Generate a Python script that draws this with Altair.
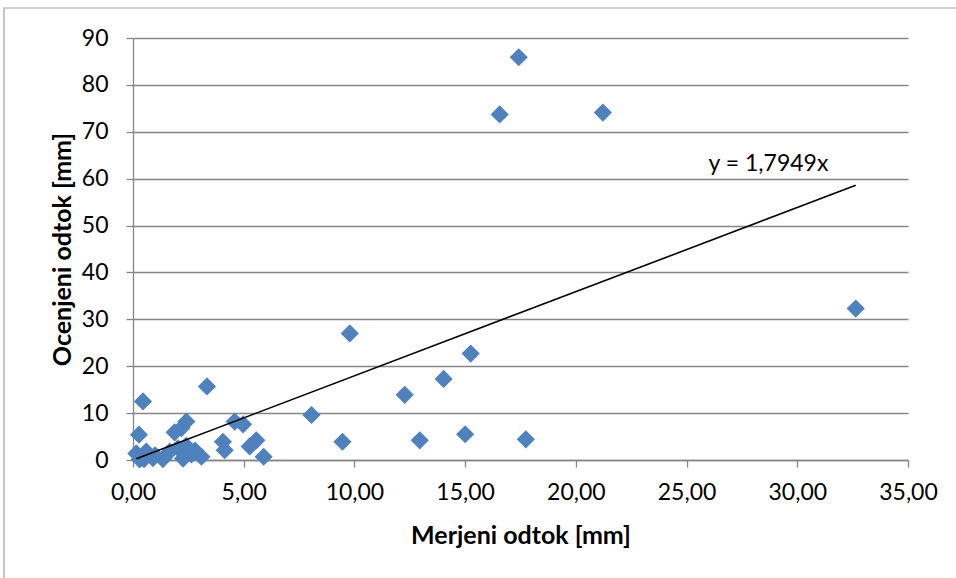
import altair as alt
import pandas as pd

# Measured runoff [mm] (x) and estimated runoff [mm] (y)
merjeni = [17.42, 16.56, 21.22, 32.64, 9.79, 15.25, 14.03, 12.27, 8.06, 9.46,
           12.95, 15.00, 17.74, 3.34, 0.45, 0.27, 2.19, 2.41, 1.88, 4.59,
           4.97, 4.06, 4.14, 5.27, 5.57, 5.90, 3.09, 0.15, 0.30, 0.60,
           0.90, 0.50, 1.35, 1.66, 2.03, 2.26, 2.64, 2.40, 2.80, 1.00]
ocenjeni = [85.9, 73.7, 74.1, 32.3, 27.0, 22.7, 17.3, 13.9, 9.6, 3.9,
            4.2, 5.5, 4.4, 15.7, 12.5, 5.4, 6.8, 8.2, 5.9, 8.2,
            7.6, 3.9, 2.1, 2.9, 4.2, 0.7, 0.7, 1.4, 0.1, 1.8,
            0.4, 0.2, 0.2, 1.8, 2.5, 0.3, 1.2, 3.0, 2.0, 1.0]

slope = 1.7949
trend_label = ["y = 1,7949x"]
label_pos_x = [28.7]
label_pos_y = [61.6]

x_ticks = [0, 5, 10, 15, 20, 25, 30, 35]
y_ticks = [0, 10, 20, 30, 40, 50, 60, 70, 80, 90]

pts = pd.DataFrame({"x": merjeni, "y": ocenjeni})
xmin, xmax = min(merjeni), max(merjeni)
trend = pd.DataFrame({"x": [xmin, xmax], "y": [slope * xmin, slope * xmax]})
lab = pd.DataFrame({"x": label_pos_x, "y": label_pos_y, "t": trend_label})

FONT = "Lato"
GRAY = "#868686"

xscale = alt.Scale(domain=[0, 35], nice=False, zero=False)
yscale = alt.Scale(domain=[0, 90], nice=False, zero=False)

xaxis = alt.Axis(
    values=x_ticks, title="Merjeni odtok [mm]",
    labelExpr="replace(format(datum.value, '.2f'), '.', ',')",
    labelFlush=False, labelOverlap=False,
    grid=False, domainColor=GRAY, domainWidth=1.3, tickColor=GRAY, tickWidth=1.3,
    tickSize=7, labelPadding=14, labelFont=FONT, labelFontSize=23, labelColor="black",
    titleFont=FONT, titleFontSize=25, titleFontWeight="bold", titleColor="black",
    titleX=387.5, titleY=75, titleBaseline="middle", titleAnchor="middle",
)
yaxis = alt.Axis(
    values=y_ticks, title="Ocenjeni odtok [mm]", format="d",
    labelFlush=False, labelOverlap=False,
    grid=True, gridColor=GRAY, gridWidth=1.3,
    domainColor=GRAY, domainWidth=1.3, tickColor=GRAY, tickWidth=1.3,
    tickSize=7, labelPadding=18, labelFont=FONT, labelFontSize=23, labelColor="black",
    titleFont=FONT, titleFontSize=25, titleFontWeight="bold", titleColor="black",
    titleX=-71, titleY=211, titleBaseline="middle", titleAnchor="middle", titleAngle=-90,
)

border = alt.Chart(pd.DataFrame({"a": [0]})).mark_rect(
    filled=False, stroke="#a0a0a0", strokeWidth=1.2
).encode(x=alt.value(-129), x2=alt.value(900), y=alt.value(-30), y2=alt.value(600))

points = alt.Chart(pts).mark_point(
    shape="diamond", filled=True, size=330, color="#4F81BD", opacity=1
).encode(
    x=alt.X("x:Q", scale=xscale, axis=xaxis),
    y=alt.Y("y:Q", scale=yscale, axis=yaxis),
)

line = alt.Chart(trend).mark_line(color="black", strokeWidth=1.6).encode(
    x=alt.X("x:Q", scale=xscale), y=alt.Y("y:Q", scale=yscale)
)

text = alt.Chart(lab).mark_text(
    font=FONT, fontSize=23, color="black", align="center", baseline="alphabetic"
).encode(x=alt.X("x:Q", scale=xscale), y=alt.Y("y:Q", scale=yscale), text="t:N")

chart = alt.layer(border, points, line, text).properties(
    width=775, height=422,
    autosize=alt.AutoSizeParams(type="none"),
    padding={"left": 133, "top": 38, "right": 48, "bottom": 118},
    background="white",
).configure_view(stroke=None)

chart.save("out.html", embed_options={"renderer": "svg", "actions": False})
